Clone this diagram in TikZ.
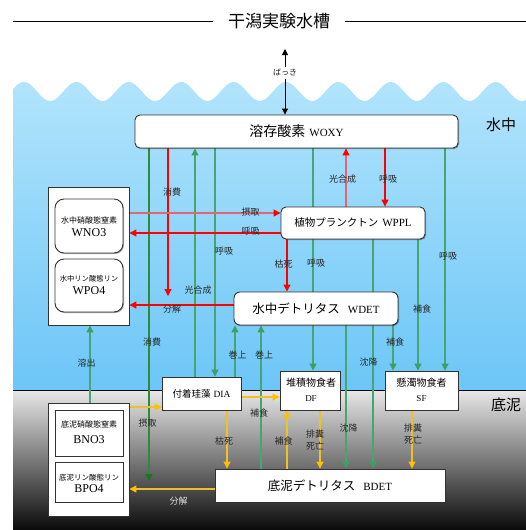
\documentclass[tikz,border=0pt]{standalone}
\usepackage{fontspec}
\setmainfont{Liberation Serif}
\newfontfamily\jp{Noto Sans CJK JP}
\usetikzlibrary{arrows.meta,shadows}
\newcommand\jpsz[1]{\jp\fontsize{#1}{#1}\selectfont}
\newcommand\rmsz[1]{\rmfamily\fontsize{#1}{#1}\selectfont}
\pgfdeclarelayer{bglayer}
\pgfdeclarelayer{linelayer}
\pgfsetlayers{bglayer,linelayer,main}
\definecolor{gln}{RGB}{72,165,115}
\definecolor{gtip}{RGB}{60,160,100}
\definecolor{dgr}{RGB}{45,140,60}
\definecolor{dgtip}{RGB}{20,120,30}
\definecolor{rd}{RGB}{255,0,0}
\definecolor{rdl}{RGB}{228,100,115}
\definecolor{yl}{RGB}{240,192,40}
\definecolor{ytip}{RGB}{255,192,0}
\definecolor{wtop}{RGB}{178,228,252}
\definecolor{wbot}{RGB}{108,198,247}
\definecolor{sdtop}{RGB}{232,232,232}
\definecolor{sdmid}{RGB}{178,178,178}
\definecolor{sdbot}{RGB}{10,10,10}
\tikzset{
  shd/.style={drop shadow={shadow xshift=1pt, shadow yshift=-1pt, opacity=0.35, fill=black}},
  rbox/.style={draw=black!80, fill=white, rounded corners=5pt, line width=0.9pt, inner sep=0pt, shd},
  sbox/.style={draw=black!80, fill=white, line width=0.9pt, inner sep=0pt, shd},
  txt/.style={inner sep=0pt},
  lab/.style={inner sep=0pt, font=\jpsz{9}, text=black!85, align=center},
  labtwo/.style={inner sep=0pt, font=\jp\fontsize{9}{12}\selectfont, text=black!85, align=center},
  con/.style={line width=1.1pt},
  garr/.style={con, draw=gln, -{Triangle[length=7pt,width=7pt,color=gtip]}},
  dgarr/.style={con, draw=dgr, -{Triangle[length=7pt,width=7pt,color=dgtip]}},
  rarr/.style={con, draw=rd, -{Triangle[length=7pt,width=7pt,color=rd]}},
  rlarr/.style={con, draw=rdl, -{Triangle[length=7pt,width=7pt,color=rd]}},
  yarr/.style={con, draw=yl, -{Triangle[length=7pt,width=7pt,color=ytip]}},
  barr/.style={line width=0.9pt, {Triangle[length=6pt,width=6pt]}-{Triangle[length=6pt,width=6pt]}},
}
\begin{document}
\begin{tikzpicture}[x=1pt,y=-1pt]
\useasboundingbox (0,0) rectangle (526,530);

\begin{pgfonlayer}{bglayer}
\shade[top color=wtop, bottom color=wbot] (13,390) -- plot[domain=13:526, samples=260] (\x,{91.5-9.5*cos(6.8702*(\x-24))}) -- (526,390) -- cycle;
\shade[top color=sdtop, middle color=sdmid, bottom color=sdbot] (13,390) rectangle (526,530);
\coordinate (gl) at (13,390);
\coordinate (gr) at (526,390);
\draw[line width=0.9pt] (gl) -- (gr);
\end{pgfonlayer}

% title
\node[txt, font=\jpsz{17}, inner xsep=15pt] (title) at (279,21) {干潟実験水槽};
\coordinate (tl) at (13,21);
\coordinate (tr) at (526,21);
\draw[line width=0.9pt] (tl) -- (title.west);
\draw[line width=0.9pt] (title.east) -- (tr);

\node[txt, font=\jpsz{15}] (zw) at (501,125) {水中};
\node[txt, font=\jpsz{15}] (zs) at (506,405) {底泥};

% nodes
\node[rbox, minimum width=323pt, minimum height=33pt] (WOXY) at (296.5,131.5)
  {{\jpsz{14}溶存酸素}\hspace{4pt}{\rmsz{11}WOXY}};
\node[sbox, minimum width=81pt, minimum height=138pt] (wcont) at (88.5,256) {};
\node[rbox, rounded corners=9pt, minimum width=68pt, minimum height=54pt] (WNO3) at (89,226) {};
\node[rbox, rounded corners=9pt, minimum width=68pt, minimum height=53pt] (WPO4) at (89,285.5) {};
\node[txt, font=\jpsz{8}] (WNO3a) at (89,220) {水中硝酸態窒素};
\node[txt, font=\rmsz{12}] (WNO3b) at (89,233) {WNO3};
\node[txt, font=\jpsz{7.3}] (WPO4a) at (89,279) {水中リン酸態リン};
\node[txt, font=\rmsz{12}] (WPO4b) at (89,291) {WPO4};
\node[rbox, minimum width=144pt, minimum height=32pt] (WPPL) at (353,223)
  {{\jpsz{10.5}植物プランクトン}\hspace{4pt}{\rmsz{11}WPPL}};
\node[rbox, rounded corners=6pt, minimum width=164pt, minimum height=33pt] (WDET) at (316,308.5)
  {{\jpsz{12.5}水中デトリタス}\hspace{8pt}{\rmsz{11}WDET}};
\node[sbox, minimum width=79pt, minimum height=33pt] (DIA) at (201.5,393.5)
  {{\jpsz{9.5}付着珪藻}\hspace{3pt}{\rmsz{9.5}DIA}};
\node[sbox, minimum width=60pt, minimum height=39pt] (DF) at (310,390.5) {};
\node[txt, font=\jpsz{10}] (DFa) at (311,383) {堆積物食者};
\node[txt, font=\rmsz{9}] (DFb) at (311,398.5) {DF};
\node[sbox, minimum width=73pt, minimum height=39pt] (SF) at (421.5,390.5) {};
\node[txt, font=\jpsz{10}] (SFa) at (421.5,383) {懸濁物食者};
\node[txt, font=\rmsz{9}] (SFb) at (421.5,398.5) {SF};
\node[sbox, minimum width=81pt, minimum height=113pt] (bcont) at (88.5,459.5) {};
\node[sbox, minimum width=68pt, minimum height=46pt] (BNO3) at (89,433) {};
\node[sbox, minimum width=68pt, minimum height=40pt] (BPO4) at (89,482) {};
\node[txt, font=\jpsz{8}] (BNO3a) at (89,424.5) {底泥硝酸態窒素};
\node[txt, font=\rmsz{12}] (BNO3b) at (89,439.5) {BNO3};
\node[txt, font=\jpsz{7.5}] (BPO4a) at (89,477.5) {底泥リン酸態リン};
\node[txt, font=\rmsz{12}] (BPO4b) at (89,489) {BPO4};
\node[sbox, minimum width=230pt, minimum height=33pt] (BDET) at (330,485.5)
  {{\jpsz{12.5}底泥デトリタス}\hspace{8pt}{\rmsz{11}BDET}};

\begin{pgfonlayer}{linelayer}
\coordinate (xa) at (149,0);
\coordinate (xb) at (168,0);
\coordinate (xc) at (195,0);
\coordinate (xd) at (215,0);
\coordinate (xe) at (313,0);
\coordinate (xf) at (346,0);
\coordinate (xg) at (385,0);
\coordinate (xh) at (445,0);
\coordinate (xi) at (287,0);
\coordinate (xj) at (373,0);
\coordinate (xk) at (418,0);
\coordinate (xl) at (393,0);
\coordinate (xn) at (235,0);
\coordinate (xo) at (261,0);
\coordinate (xp) at (227,0);
\coordinate (xr) at (320,0);
\coordinate (xs) at (412,0);
\coordinate (xt) at (90,0);
\coordinate (ya) at (0,213);
\coordinate (yb) at (0,233);
\coordinate (yc) at (0,305);
\coordinate (yd) at (0,397);
\coordinate (ye) at (0,407);
\coordinate (yf) at (0,489);
\coordinate (sinkA) at (149,481);
\coordinate (sinkB) at (168,296);
\coordinate (airtop) at (285,49);

\draw[barr] (airtop) -- node[lab, font=\jpsz{8}, fill=white, inner sep=2.5pt, pos=0.36] (Lair) {ばっき} (WOXY.north -| airtop);

% green
\draw[dgarr] (WOXY.south -| xa) -- (sinkA);
\draw[garr] (DIA.north -| xc) -- (WOXY.south -| xc);
\draw[garr] (WOXY.south -| xd) -- (DIA.north -| xd);
\draw[garr] (WOXY.south -| xe) -- (DF.north -| xe);
\draw[garr] (WOXY.south -| xh) -- (SF.north -| xh);
\draw[garr] (WPPL.south -| xj) -- (BDET.north -| xj);
\draw[garr] (WPPL.south -| xk) -- (SF.north -| xk);
\draw[garr] (WDET.south -| xl) -- (SF.north -| xl);
\draw[garr] (WDET.south -| xf) -- (BDET.north -| xf);
\draw[garr] (DIA.north -| xn) -- (WDET.south -| xn);
\draw[garr] (BDET.north -| xo) -- (WDET.south -| xo);
\draw[garr] (bcont.north -| xt) -- (wcont.south -| xt);
% red
\draw[rarr] (WOXY.south -| xb) -- (sinkB);
\draw[rlarr] (WPPL.north -| xf) -- (WOXY.south -| xf);
\draw[rarr] (WOXY.south -| xg) -- (WPPL.north -| xg);
\draw[rlarr] (wcont.east |- ya) -- (WPPL.west |- ya);
\draw[rarr] (WPPL.west |- yb) -- (wcont.east |- yb);
\draw[rarr] (WPPL.south -| xi) -- (WDET.north -| xi);
\draw[rarr] (WDET.west |- yc) -- (wcont.east |- yc);
% yellow
\draw[yarr] (DIA.east |- yd) -- (DF.west |- yd);
\draw[yarr] (bcont.east |- ye) -- (DIA.west |- ye);
\draw[yarr] (DIA.south -| xp) -- (BDET.north -| xp);
\draw[yarr] (BDET.north -| xi) -- (DF.south -| xi);
\draw[yarr] (DF.south -| xr) -- (BDET.north -| xr);
\draw[yarr] (SF.south -| xs) -- (BDET.north -| xs);
\draw[yarr] (BDET.west |- yf) -- (bcont.east |- yf);

% labels
\node[lab] (L1) at (152,342) {消費};
\node[lab] (L2) at (172,192) {消費};
\node[lab] (L3) at (198,290) {光合成};
\node[lab] (L4) at (224,251) {呼吸};
\node[lab] (L5) at (316,263) {呼吸};
\node[lab] (L6) at (342.5,179) {光合成};
\node[lab] (L7) at (388,179) {呼吸};
\node[lab] (L8) at (448,256.5) {呼吸};
\node[lab] (L9) at (250.5,212) {摂取};
\node[lab] (L10) at (250.5,231) {呼吸};
\node[lab] (L11) at (283.5,264) {枯死};
\node[lab] (L12) at (172,309.5) {分解};
\node[lab] (L13) at (368.5,362) {沈降};
\node[lab] (L14) at (422,309) {補食};
\node[lab] (L15) at (395,342.5) {補食};
\node[lab] (L16) at (348.5,428) {沈降};
\node[lab] (L17) at (237.5,355) {巻上};
\node[lab] (L18) at (264,355) {巻上};
\node[lab] (L19) at (259,413.5) {補食};
\node[lab] (L20) at (147.5,423) {摂取};
\node[lab] (L21) at (224,441) {枯死};
\node[lab] (L22) at (283.5,441) {補食};
\node[labtwo] (L23) at (315,440) {排糞\\死亡};
\node[labtwo] (L24) at (413,434) {排糞\\死亡};
\node[lab, text=black!12] (L25) at (178.5,501) {分解};
\node[lab] (L26) at (86.5,363) {溶出};
\end{pgfonlayer}
\end{tikzpicture}
\end{document}
